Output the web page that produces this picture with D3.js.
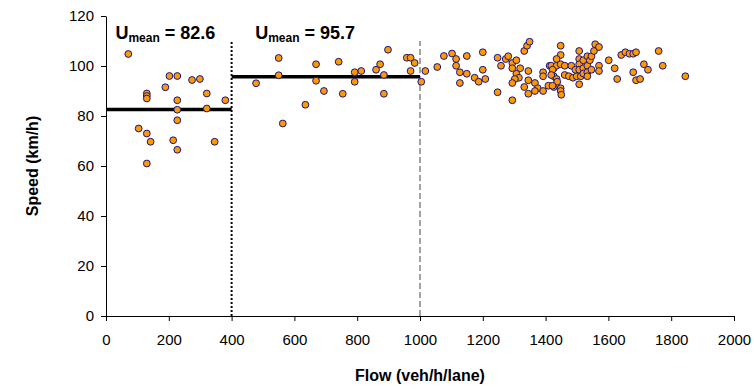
<!DOCTYPE html>
<html>
<head>
<meta charset="utf-8">
<script src="https://cdn.jsdelivr.net/npm/d3@7"></script>
<style>
    body { margin: 0; background: #fff; }
    text { font-family: Arial, "Liberation Sans", sans-serif; }
</style>
</head>
<body>
<div class="flow-speed-container"></div>
<script>
// Data

// flow (veh/h/lane), speed (km/h)
const lowFlow = [
    [71,104.8],[202,96],[227,96],[189,91.5],[274,94.4],[299,94.8],[130,89],[130,88],[130,87],
    [321,89],[227,86.3],[380,86.3],[227,82.5],[321,83],[227,78.3],[104,75],[130,73],[142,69.7],
    [214,70.3],[227,66.5],[346,69.7],[130,61]
]

const midFlow = [
    [478,93.1],[550,103.2],[550,96.3],[563,77],[635,84.5],[669,100.7],[669,94.1],[694,90],
    [741,101.7],[754,88.9],[792,97.5],[792,93.7],[813,98],[860,98.5],[873,100.7],[885,96.4],
    [885,88.9],[898,106.5],[958,103.3],[970,103.3],[983,101.2],[970,98]
]

const highFlow = [
    [1004,93.7],[1017,98],[1055,99.6],[1076,104],[1102,105],[1115,102.8],[1115,100.1],[1127,97.5],
    [1127,93.2],[1149,104],[1149,96.9],[1174,95.3],[1187,93.7],[1200,105.5],[1200,98.5],[1208,94.8],
    [1247,103.3],[1247,89.5],[1258,100.1],[1273,102.8],[1281,103.9],[1294,101.2],[1307,102.3],
    [1294,99.1],[1319,99.1],[1307,96.9],[1315,95.3],[1302,94.8],[1294,93.2],[1294,86.3],[1332,106],
    [1341,108.1],[1349,109.7],[1345,98],[1345,94.3],[1332,91.6],[1345,88.9],[1366,93.2],[1375,91.1],
    [1366,90],[1392,97.5],[1392,95.9],[1392,90],[1413,100.1],[1409,92.1],[1426,99.1],[1426,95.9],
    [1426,91.6],[1448,108.1],[1448,104.4],[1435,102.8],[1418,100.1],[1435,100.1],[1448,100.7],
    [1461,100.1],[1482,100.1],[1422,98.5],[1418,96.4],[1435,94.8],[1437,93.7],[1422,92.1],[1448,91.1],
    [1448,90],[1450,88.5],[1461,96.4],[1474,95.9],[1487,95.3],[1499,95.9],[1495,98.5],[1507,106],
    [1507,102.8],[1507,100.7],[1507,98.5],[1507,92.7],[1512,95.9],[1520,102.3],[1520,99.1],[1520,97],
    [1533,103.9],[1533,100.1],[1533,97.5],[1533,95.9],[1541,102.3],[1546,103.9],[1546,98.5],[1554,106],
    [1558,108.7],[1570,107.6],[1570,100.1],[1570,98],[1601,102.3],[1620,99.1],[1628,94.8],[1641,104.4],
    [1654,105.5],[1667,104.9],[1679,104.9],[1688,105.5],[1679,97.5],[1688,94.3],[1701,94.8],
    [1713,100.7],[1726,98.5],[1760,106],[1773,100.1],[1845,95.9]
]

// mean speed segments: [from flow, to flow, mean speed]
const meanSegments = [[0, 400, 82.6], [400, 1000, 95.7]]
const meanLabels = ['82.6', '95.7']
const meanLabelFlow = [30, 475]

const xTicks = [0, 200, 400, 600, 800, 1000, 1200, 1400, 1600, 1800, 2000]
const yTicks = [0, 20, 40, 60, 80, 100, 120]

let dims = {
    width: 754,
    height: 389,
    margin: {
        top: 16,
        bottom: 73,
        left: 106,
        right: 20
    }
}

const svg = d3.select(".flow-speed-container")
    .append('svg')
    .attr('width', dims.width)
    .attr('height', dims.height)

function drawFlowSpeed() {
    const container = svg.append('g')
        .attr('transform', `translate(${dims.margin.left},${dims.margin.top})`)

    const containerWidth = 628
    const containerHeight = 300

    const xScale = d3.scaleLinear()
        .domain([0, 2000])
        .range([0, containerWidth])

    const yScale = d3.scaleLinear()
        .domain([0, 120])
        .range([containerHeight, 0])

// X Axis and Label
    const xAxis = d3.axisBottom(xScale).tickValues(xTicks).tickFormat(d => d).tickSize(5).tickSizeOuter(0)
    const xAxisGroup = container.append('g')
        .attr('transform', `translate(0, ${containerHeight})`)
        .call(xAxis)
    xAxisGroup.selectAll('text')
        .attr('y', 18)
        .attr('font-size', '15px')
        .attr('font-family', 'Arial, "Liberation Sans", sans-serif')
        .attr('fill', '#000')
    xAxisGroup.selectAll('line, path').attr('stroke', '#000')

    container.append('text')
        .attr('x', containerWidth / 2)
        .attr('y', containerHeight + 65)
        .attr('font-size', '16px')
        .attr('font-weight', 'bold')
        .attr('text-anchor', 'middle')
        .text('Flow (veh/h/lane)')

// Y Axis and Label
    const yAxis = d3.axisLeft(yScale).tickValues(yTicks).tickSize(5).tickSizeOuter(0)
    const yAxisGroup = container.append('g')
        .call(yAxis)
    yAxisGroup.selectAll('text')
        .attr('x', -12)
        .attr('font-size', '15px')
        .attr('font-family', 'Arial, "Liberation Sans", sans-serif')
        .attr('fill', '#000')
    yAxisGroup.selectAll('line, path').attr('stroke', '#000')

    container.append('text')
        .attr('x', -containerHeight / 2)
        .attr('y', -68)
        .attr('font-size', '16px')
        .attr('font-weight', 'bold')
        .attr('text-anchor', 'middle')
        .attr('transform', 'rotate(-90)')
        .text('Speed (km/h)')

// Regime boundaries
    container.append('line')
        .attr('x1', xScale(400)).attr('x2', xScale(400))
        .attr('y1', yScale(0)).attr('y2', yScale(110))
        .attr('stroke', '#000')
        .attr('stroke-width', 2)
        .attr('stroke-dasharray', '2,2')

    container.append('line')
        .attr('x1', xScale(1000)).attr('x2', xScale(1000))
        .attr('y1', yScale(0)).attr('y2', yScale(110))
        .attr('stroke', '#666')
        .attr('stroke-width', 1.2)
        .attr('stroke-dasharray', '6,3')

// Mean lines
    container.selectAll('.mean-line')
        .data(meanSegments)
        .join('line')
        .attr('class', 'mean-line')
        .attr('x1', d => xScale(d[0]))
        .attr('x2', d => xScale(d[1]))
        .attr('y1', d => yScale(d[2]))
        .attr('y2', d => yScale(d[2]))
        .attr('stroke', '#000')
        .attr('stroke-width', 3.5)

// Add Data
    const allPoints = lowFlow.concat(midFlow, highFlow)
    container.selectAll('circle')
        .data(allPoints)
        .join('circle')
        .attr('cx', d => xScale(d[0]))
        .attr('cy', d => yScale(d[1]))
        .attr('r', 3.4)
        .attr('fill', '#FF9900')
        .attr('stroke', '#15158a')
        .attr('stroke-width', 1)

// Mean labels
    meanLabels.forEach((m, i) => {
        const t = container.append('text')
            .attr('x', xScale(meanLabelFlow[i]))
            .attr('y', 23)
            .attr('font-weight', 'bold')
            .attr('font-size', '18px')
        t.append('tspan').text('U')
        t.append('tspan').attr('font-size', '12px').attr('dy', 3).text('mean')
        t.append('tspan').attr('dy', -3).text(' = ' + m)
    })
}

drawFlowSpeed()
</script>
</body>
</html>
